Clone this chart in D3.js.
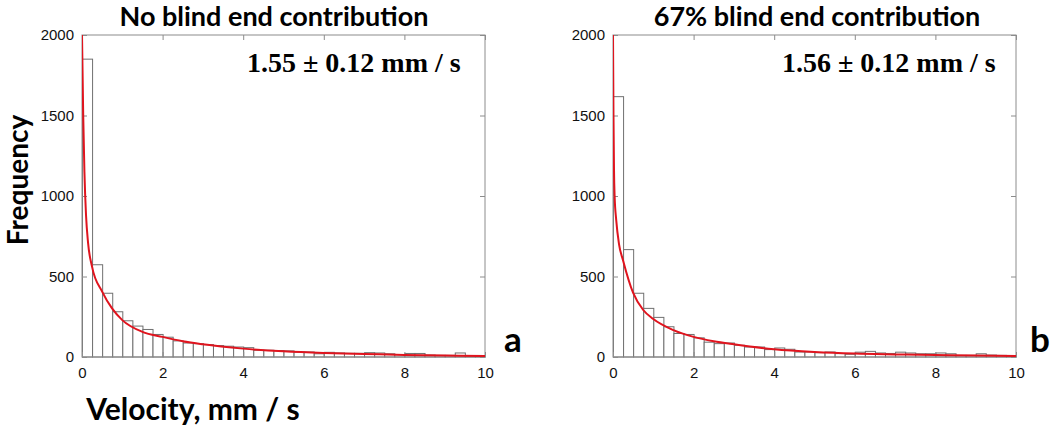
<!DOCTYPE html>
<html><head><meta charset="utf-8">
<script src="https://cdn.jsdelivr.net/npm/d3@7"></script>
<style>body{margin:0;background:#fff}svg{display:block}</style>
</head><body>
<svg id="c" width="1050" height="436"></svg>
<script>
const binStarts = d3.range(0, 10, 0.25);
const binWidth = 0.25;
const countsA = [1850,573,396,281,225,192,171,140,123,100,87,83,77,71,67,62,58,42,42,40,38,31,31,20,29,25,23,23,27,25,20,15,22,22,12,10,10,25,8,6];
const countsB = [1617,667,396,302,246,188,146,140,119,92,83,87,73,62,62,46,56,48,31,31,27,31,21,17,30,35,25,22,30,25,20,20,25,20,10,10,20,12,10,8];
const fitXA = [0,0.03,0.06,0.1,0.15,0.25,0.5,0.75,1,1.5,2,2.5,3,4,5,6,7,8,9,10];
const fitYA = [2000,1500,1150,880,710,560,406,300,229,156,125,98,79,52,35,25,19,13,9,6];
const fitXB = [0,0.012,0.025,0.04,0.08,0.15,0.25,0.5,0.75,1,1.5,2,2.5,3,4,5,6,7,8,9,10];
const fitYB = [2000,1500,1160,1000,850,700,600,398,292,236,167,125,98,79,48,31,21,16,12,9,6];
const xTicks = [0,2,4,6,8,10];
const yTicks = [0,500,1000,1500,2000];
const titles = ["No blind end contribution","67% blind end contribution"];
const annotations = ["1.55 \u00B1 0.12 mm / s","1.56 \u00B1 0.12 mm / s"];
const panelLetters = ["a","b"];

const svg = d3.select("#c");
const panels = [
  {x0:82, x1:485, counts:countsA, fx:fitXA, fy:fitYA, titleX:274, annX:247, letterX:513},
  {x0:613, x1:1016, counts:countsB, fx:fitXB, fy:fitYB, titleX:817, annX:782, letterX:1040}
];
const yTop = 35, yBot = 357;
const axisCol = "#8c8c8c";
const sans = "Lato, 'Open Sans', sans-serif";

panels.forEach((p, i) => {
  const x = d3.scaleLinear().domain([0,10]).range([p.x0, p.x1]);
  const y = d3.scaleLinear().domain([0,2000]).range([yBot, yTop]);
  const g = svg.append("g");
  const clipId = "clip" + i;
  svg.append("clipPath").attr("id", clipId).append("rect")
    .attr("x", p.x0).attr("y", yTop).attr("width", p.x1 - p.x0).attr("height", yBot - yTop);

  g.selectAll("rect.bar").data(binStarts).join("rect")
    .attr("class","bar")
    .attr("x", d => x(d) + 0.5)
    .attr("y", (d, k) => y(p.counts[k]))
    .attr("width", d => x(d + binWidth) - x(d))
    .attr("height", (d, k) => y(0) - y(p.counts[k]))
    .attr("fill", "#fff").attr("stroke", "#707070").attr("stroke-width", 1);

  g.append("rect").attr("x", p.x0).attr("y", yTop).attr("width", p.x1 - p.x0).attr("height", yBot - yTop)
    .attr("fill", "none").attr("stroke", axisCol).attr("stroke-width", 1);

  const xa = g.append("g").attr("transform", `translate(0,${yBot})`)
    .call(d3.axisBottom(x).tickValues(xTicks).tickSize(-5).tickPadding(10).tickFormat(d3.format("d")));
  const xt = g.append("g").attr("transform", `translate(0,${yTop})`)
    .call(d3.axisTop(x).tickValues(xTicks).tickSize(-5).tickFormat(""));
  const ya = g.append("g").attr("transform", `translate(${p.x0},0)`)
    .call(d3.axisLeft(y).tickValues(yTicks).tickSize(-5).tickPadding(8).tickFormat(d3.format("d")));
  const yr = g.append("g").attr("transform", `translate(${p.x1},0)`)
    .call(d3.axisRight(y).tickValues(yTicks).tickSize(-5).tickFormat(""));
  [xa, xt, ya, yr].forEach(a => {
    a.select(".domain").remove();
    a.selectAll(".tick line").attr("stroke", axisCol);
    a.selectAll(".tick text").attr("font-family", "'Liberation Sans', Arial, sans-serif")
      .attr("font-size", 15).attr("fill", "#111");
  });

  const line = d3.line().x((d, k) => x(p.fx[k])).y((d, k) => y(p.fy[k])).curve(d3.curveMonotoneX);
  g.append("path").datum(p.fx).attr("d", line).attr("fill", "none")
    .attr("stroke", "#e0141e").attr("stroke-width", 2).attr("clip-path", `url(#${clipId})`);

  svg.append("text").attr("x", p.titleX).attr("y", 26).attr("text-anchor", "middle")
    .attr("font-family", sans).attr("font-weight", "bold")
    .attr("font-size", 27).attr("fill", "#000").text(titles[i]);

  svg.append("text").attr("x", p.annX).attr("y", 72).attr("text-anchor", "start")
    .attr("font-family", "'Liberation Serif', 'Times New Roman', serif").attr("font-weight", "bold")
    .attr("font-size", 28).attr("fill", "#000").text(annotations[i]);

  svg.append("text").attr("x", p.letterX).attr("y", 352).attr("text-anchor", "middle")
    .attr("font-family", sans).attr("font-weight", "bold")
    .attr("font-size", 35).attr("fill", "#000").text(panelLetters[i]);
});

svg.append("text").attr("transform", "translate(28,180) rotate(-90)").attr("text-anchor", "middle")
  .attr("font-family", sans).attr("font-weight", "bold")
  .attr("font-size", 28).attr("fill", "#000").text("Frequency");

svg.append("text").attr("x", 193).attr("y", 420).attr("text-anchor", "middle")
  .attr("font-family", sans).attr("font-weight", "bold")
  .attr("font-size", 30).attr("fill", "#000").text("Velocity, mm / s");
</script>
</body></html>
